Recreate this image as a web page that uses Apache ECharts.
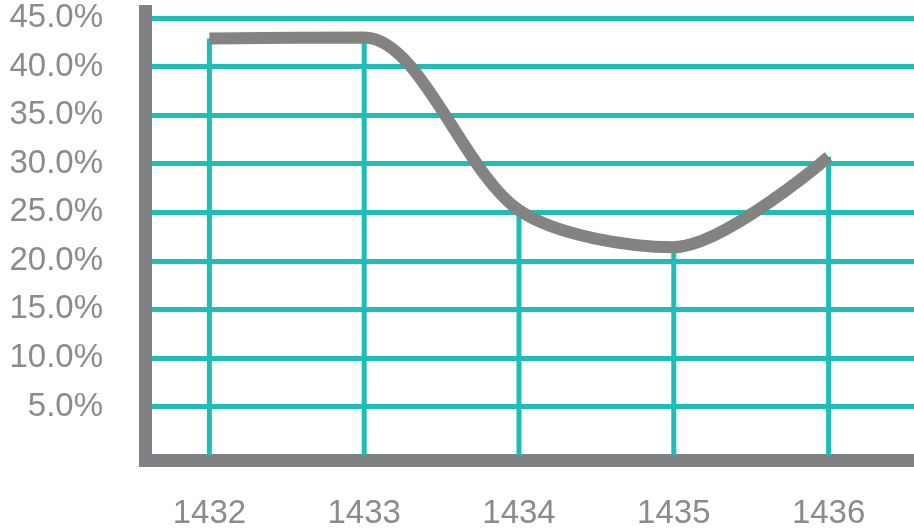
<!DOCTYPE html>
<html>
<head>
<meta charset="utf-8">
<script src="https://cdn.jsdelivr.net/npm/echarts@6/dist/echarts.min.js"></script>
<style>html,body{margin:0;padding:0;background:#fff}#c{width:914px;height:531px}</style>
</head>
<body>
<div id="c"></div>
<script>
var years = ['1432', '1433', '1434', '1435', '1436'];
var shares = [42.9, 43.0, 25.2, 21.4, 30.7];
var yMin = 0, yMax = 45, yStep = 5;

var teal = '#1fbdb8';
var axisGray = '#808184';
var lineGray = '#838482';
var textGray = '#8a8b8f';
var font = 'Liberation Sans, Arial, Helvetica, sans-serif';

var chart = echarts.init(document.getElementById('c'), null, {renderer: 'canvas'});
chart.setOption({
  animation: false,
  grid: [
    {left: 152, right: 0, top: 18, bottom: 76},
    {left: 145.5, right: 0, top: 11.5, bottom: 70.5},
    {left: 132, right: 8, top: 18, bottom: 76}
  ],
  xAxis: [
    {gridIndex: 0, type: 'category', data: years, show: false},
    {gridIndex: 1, type: 'value', min: 0, max: 1,
      axisLine: {show: true, lineStyle: {color: axisGray, width: 13, cap: 'square'}},
      axisTick: {show: false}, axisLabel: {show: false}, splitLine: {show: false}},
    {gridIndex: 2, type: 'category', data: years, boundaryGap: true,
      axisLine: {show: false}, axisTick: {show: false},
      axisLabel: {color: textGray, fontSize: 33, fontFamily: font, margin: 42}}
  ],
  yAxis: [
    {gridIndex: 0, type: 'value', min: yMin, max: yMax, interval: yStep,
      axisLine: {show: false}, axisTick: {show: false},
      axisLabel: {color: textGray, fontSize: 33, fontFamily: font, margin: 49,
        formatter: function (v) { return v === 0 ? '' : v.toFixed(1) + '%'; }},
      splitLine: {show: true, showMinLine: false, lineStyle: {color: teal, width: 5}}},
    {gridIndex: 1, type: 'value', min: 0, max: 1,
      axisLine: {show: true, lineStyle: {color: axisGray, width: 13, cap: 'square'}},
      axisTick: {show: false}, axisLabel: {show: false}, splitLine: {show: false}},
    {gridIndex: 2, type: 'value', min: yMin, max: yMax, interval: yStep, show: false,
      splitLine: {show: false}}
  ],
  series: [
    {type: 'bar', xAxisIndex: 2, yAxisIndex: 2, data: shares, barWidth: 5,
      itemStyle: {color: teal}, z: 2, silent: true},
    {type: 'line', xAxisIndex: 2, yAxisIndex: 2, data: shares, smooth: 0.3,
      symbol: 'none', lineStyle: {color: lineGray, width: 12}, z: 5, silent: true}
  ]
});
</script>
</body>
</html>
